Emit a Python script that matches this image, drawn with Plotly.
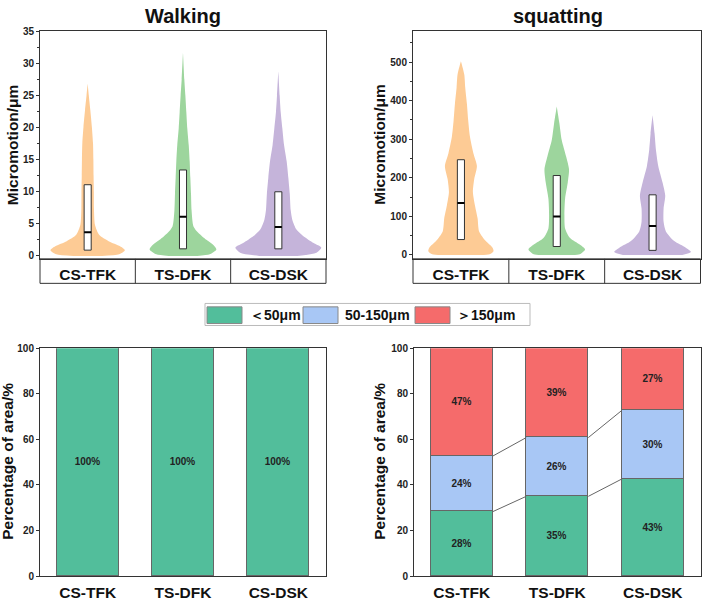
import plotly.graph_objects as go

# ---------------- data ----------------
categories = ["CS-TFK", "TS-DFK", "CS-DSK"]
cat_pos = [0, 1, 2]
panel_titles = ["Walking", "squatting"]
y_title_top = "Micromotion/μm"
y_title_bottom = "Percentage of area/%"
violin_colors = ["#FDCB95", "#9DD59D", "#C5B4DA"]

# violin outlines: micromotion level and half width (category units)
walk_tfk_level = [0, 0.25, 0.9, 1.5, 2.3, 3.3, 4.8, 7.4, 9.9, 12.5, 15.0, 17.6, 20.1, 22.7, 25.0, 26.9]
walk_tfk_hw = [0.15, 0.33, 0.39, 0.34, 0.22, 0.12, 0.077, 0.066, 0.065, 0.062, 0.06, 0.056, 0.044, 0.028, 0.012, 0]
walk_tdf_level = [0, 0.25, 1.0, 1.8, 2.5, 3.6, 4.6, 7.1, 9.7, 12.2, 14.8, 17.3, 19.9, 22.4, 25.0, 27.5, 31.7]
walk_tdf_hw = [0.15, 0.28, 0.35, 0.31, 0.245, 0.16, 0.11, 0.09, 0.084, 0.077, 0.07, 0.06, 0.045, 0.035, 0.025, 0.014, 0]
walk_dsk_level = [0, 0.5, 1.3, 2.0, 3.1, 4.1, 5.6, 7.1, 9.7, 12.2, 14.8, 17.3, 19.9, 22.4, 25.0, 28.8]
walk_dsk_hw = [0.2, 0.40, 0.45, 0.37, 0.26, 0.19, 0.147, 0.13, 0.12, 0.105, 0.087, 0.06, 0.042, 0.025, 0.014, 0]

squat_tfk_level = [0, 2, 10, 19, 36, 61, 95, 129, 163, 197, 231, 264, 307, 349, 392, 434, 468, 502]
squat_tfk_hw = [0.2, 0.30, 0.34, 0.33, 0.26, 0.19, 0.174, 0.146, 0.125, 0.139, 0.167, 0.13, 0.094, 0.076, 0.0625, 0.045, 0.035, 0]
squat_tdf_level = [0, 2, 14.5, 27, 44, 69, 103, 146, 188, 222, 256, 298, 341, 385]
squat_tdf_hw = [0.16, 0.24, 0.295, 0.24, 0.139, 0.087, 0.08, 0.087, 0.115, 0.128, 0.097, 0.052, 0.028, 0]
squat_dsk_level = [0, 8, 19, 36, 61, 86, 120, 154, 188, 231, 273, 315, 362]
squat_dsk_hw = [0.31, 0.40, 0.347, 0.226, 0.139, 0.115, 0.115, 0.132, 0.104, 0.059, 0.035, 0.021, 0]

walk_q1 = [0.9, 1.1, 1.1]
walk_median = [3.7, 6.1, 4.5]
walk_q3 = [11.1, 13.4, 10.0]
squat_q1 = [40, 22, 12]
squat_median = [135, 100, 75]
squat_q3 = [247, 206, 156]

area_classes = ["＜50μm", "50-150μm", "＞150μm"]
class_colors = ["#52BE9B", "#A8C7F5", "#F56B6B"]
walk_pct_low = [100, 100, 100]
walk_pct_mid = [0, 0, 0]
walk_pct_high = [0, 0, 0]
squat_pct_low = [28.3, 35.0, 42.6]
squat_pct_mid = [24.4, 25.8, 30.1]
squat_pct_high = [47.3, 39.2, 27.3]

# ---------------- figure ----------------
W, H = 702, 601
FONT = "Liberation Sans, Arial, sans-serif"
LINE = "#333333"


def px_x(p):
    return p / W


def px_y(p):
    return 1 - p / H


fig = go.Figure()


def add_violin(xa, ya, pos, levels, hw, color):
    xs = [pos + w for w in hw] + [pos - w for w in reversed(hw)]
    ys = list(levels) + list(reversed(levels))
    fig.add_trace(go.Scatter(x=xs, y=ys, mode="lines", fill="toself", fillcolor=color,
                             line=dict(width=0, shape="spline", smoothing=0.7, color=color),
                             xaxis=xa, yaxis=ya, hoverinfo="skip", showlegend=False))


def add_box(xa, ya, pos, q1, med, q3):
    bw = 0.037
    fig.add_trace(go.Scatter(x=[pos - bw, pos + bw, pos + bw, pos - bw, pos - bw],
                             y=[q1, q1, q3, q3, q1], mode="lines", fill="toself",
                             fillcolor="white", line=dict(color=LINE, width=1),
                             xaxis=xa, yaxis=ya, hoverinfo="skip", showlegend=False))
    fig.add_trace(go.Scatter(x=[pos - bw, pos + bw], y=[med, med], mode="lines",
                             line=dict(color="black", width=2),
                             xaxis=xa, yaxis=ya, hoverinfo="skip", showlegend=False))


walk_profiles = [(walk_tfk_level, walk_tfk_hw), (walk_tdf_level, walk_tdf_hw), (walk_dsk_level, walk_dsk_hw)]
squat_profiles = [(squat_tfk_level, squat_tfk_hw), (squat_tdf_level, squat_tdf_hw), (squat_dsk_level, squat_dsk_hw)]

for i, (lv, hw) in enumerate(walk_profiles):
    add_violin("x", "y", cat_pos[i], lv, hw, violin_colors[i])
for i in range(3):
    add_box("x", "y", cat_pos[i], walk_q1[i], walk_median[i], walk_q3[i])
for i, (lv, hw) in enumerate(squat_profiles):
    add_violin("x2", "y2", cat_pos[i], lv, hw, violin_colors[i])
for i in range(3):
    add_box("x2", "y2", cat_pos[i], squat_q1[i], squat_median[i], squat_q3[i])


def add_stack(xa, ya, series):
    for name, vals, col in zip(area_classes, series, class_colors):
        if max(vals) <= 0:
            continue
        fig.add_trace(go.Bar(x=cat_pos, y=vals, width=0.65, name=name,
                             marker=dict(color=col, line=dict(color="#666666", width=1)),
                             text=[f"{v:.0f}%" if v > 0 else "" for v in vals],
                             textposition="inside", insidetextanchor="middle", textangle=0,
                             textfont=dict(size=10, color="#222222", family=FONT, weight="bold"),
                             xaxis=xa, yaxis=ya, showlegend=False, hoverinfo="skip"))


add_stack("x3", "y3", [walk_pct_low, walk_pct_mid, walk_pct_high])
add_stack("x4", "y4", [squat_pct_low, squat_pct_mid, squat_pct_high])

# connecting lines between the stacked segments (squatting)
cum_low = squat_pct_low
cum_mid = [a + b for a, b in zip(squat_pct_low, squat_pct_mid)]
lx, ly = [], []
for cum in (cum_low, cum_mid):
    for i in range(2):
        lx += [cat_pos[i] + 0.325, cat_pos[i + 1] - 0.325, None]
        ly += [cum[i], cum[i + 1], None]
fig.add_trace(go.Scatter(x=lx, y=ly, mode="lines", line=dict(color="#666666", width=1),
                         xaxis="x4", yaxis="y4", hoverinfo="skip", showlegend=False))

# ---------------- axes ----------------
tickfont = dict(family=FONT, size=10, color="#222222", weight="bold")
catfont = dict(family=FONT, size=15.5, color="#111111", weight="bold")

top_dom = [px_y(258), px_y(25)]
bot_dom = [px_y(581.7), px_y(349.3)]


def xax(dom, anchor):
    return dict(domain=dom, anchor=anchor, range=[-0.5, 2.5], tickvals=cat_pos, ticktext=categories,
                ticks="", showline=True, mirror=True, linecolor=LINE, linewidth=1,
                showgrid=False, zeroline=False, tickfont=catfont)


def yax(dom, anchor, rng, dtick, minor_dtick):
    d = dict(domain=dom, anchor=anchor, range=rng, tick0=0, dtick=dtick, ticks="outside",
             ticklen=3, tickcolor=LINE, showline=True, mirror=True, linecolor=LINE, linewidth=1,
             showgrid=False, zeroline=False, tickfont=tickfont)
    if minor_dtick:
        d["minor"] = dict(ticks="outside", ticklen=2, dtick=minor_dtick, tick0=0, tickcolor=LINE,
                          showgrid=False)
    return d


fig.update_layout(
    width=W, height=H,
    margin=dict(l=0, r=0, t=0, b=0),
    paper_bgcolor="white", plot_bgcolor="white",
    barmode="stack", bargap=0,
    showlegend=False,
    font=dict(family=FONT, color="#111111"),
    xaxis=xax([px_x(40), px_x(326)], "y"),
    yaxis=yax(top_dom, "x", [-0.46, 35.15], 5, 2.5),
    xaxis2=xax([px_x(413), px_x(700.5)], "y2"),
    yaxis2=yax(top_dom, "x2", [-10, 582], 100, 50),
    xaxis3=xax([px_x(40), px_x(326)], "y3"),
    yaxis3=yax(bot_dom, "x3", [0, 100], 20, None),
    xaxis4=xax([px_x(414), px_x(700.5)], "y4"),
    yaxis4=yax(bot_dom, "x4", [0, 100], 20, None),
)
fig.update_xaxes(ticklabelstandoff=2)

# category boxes under the violin panels
shapes = []
box_depth = 25 / 233
for xr, yr in (("x domain", "y domain"), ("x2 domain", "y2 domain")):
    shapes.append(dict(type="rect", xref=xr, yref=yr, x0=0, x1=1, y0=-box_depth, y1=0,
                       line=dict(color=LINE, width=1)))
    for xd in (1 / 3, 2 / 3):
        shapes.append(dict(type="line", xref=xr, yref=yr, x0=xd, x1=xd, y0=-box_depth, y1=0,
                           line=dict(color=LINE, width=1)))

# legend (drawn as a key box)
shapes.append(dict(type="rect", xref="paper", yref="paper", x0=px_x(205), x1=px_x(530),
                   y0=px_y(326), y1=px_y(303.5), line=dict(color="#BBBBBB", width=1)))
swatch_x = [207, 303, 415]
label_x = [248, 343, 455]
annotations = []
for sx, lxp, name, col in zip(swatch_x, label_x, area_classes, class_colors):
    shapes.append(dict(type="rect", xref="paper", yref="paper", x0=px_x(sx), x1=px_x(sx + 35),
                       y0=px_y(324), y1=px_y(307), fillcolor=col, line=dict(color="#888888", width=1)))
    annotations.append(dict(xref="paper", yref="paper", x=px_x(lxp), y=px_y(315.5), text=name,
                            showarrow=False, xanchor="left", yanchor="middle",
                            font=dict(family=FONT, size=14, color="#111111", weight="bold")))

# panel titles
for title, cx in zip(panel_titles, [183, 557.7]):
    annotations.append(dict(xref="paper", yref="paper", x=px_x(cx), y=px_y(10), text=title,
                            showarrow=False, xanchor="center", yanchor="middle",
                            font=dict(family=FONT, size=20, color="#111111", weight="bold")))

# y-axis titles
for txt, cx, cy in ((y_title_top, 12.5, 141.5), (y_title_top, 380, 141.5),
                    (y_title_bottom, 8, 465), (y_title_bottom, 380, 465)):
    annotations.append(dict(xref="paper", yref="paper", x=px_x(cx), y=px_y(cy), text=txt,
                            showarrow=False, xanchor="center", yanchor="middle", textangle=-90,
                            font=dict(family=FONT, size=15.5, color="#111111", weight="bold")))

fig.update_layout(shapes=shapes, annotations=annotations)

fig.write_html("out.html")
